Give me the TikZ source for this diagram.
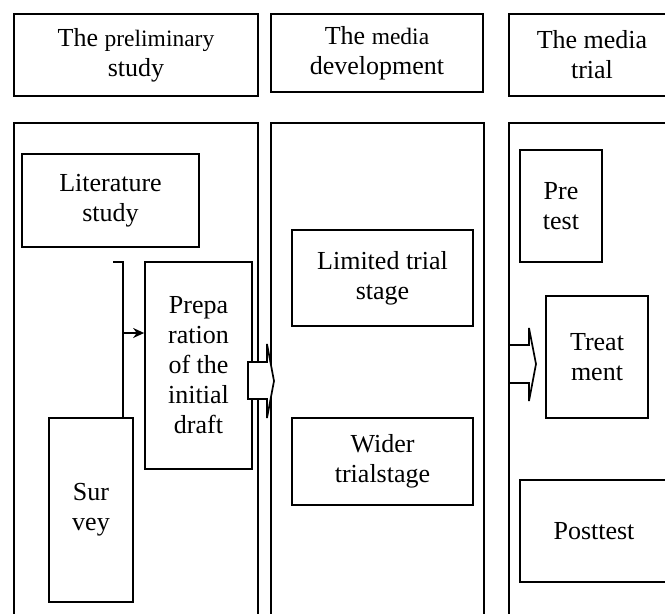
\documentclass[tikz,border=0pt]{standalone}
\usepackage{fontspec}
\setmainfont{Liberation Serif}
\usetikzlibrary{arrows.meta,calc}
\tikzset{
  box/.style={draw, line width=1.7pt, inner sep=0pt, align=center,
    font=\fontsize{26}{30}\selectfont},
  conn/.style={line width=1.7pt},
  blockarrow/.style={draw, fill=white, line width=1.7pt, line join=miter}
}
\newcommand{\smallword}[1]{{\fontsize{23.5}{30}\selectfont #1}}
\begin{document}
\begin{tikzpicture}[x=1pt,y=-1pt]
\useasboundingbox (0,0) rectangle (665,614);
\clip (0,0) rectangle (665,614);
% headers
\node[box, minimum width=244, minimum height=82] (h1) at (136,55) {The \smallword{preliminary}\\study};
\node[box, minimum width=212, minimum height=78] (h2) at (377,53) {The \smallword{media}\\development};
\node[box, minimum width=166, minimum height=82] (h3) at (592,55) {The media\\trial};
% panels
\node[box, minimum width=244, minimum height=517] (p1) at (136,381.5) {};
\node[box, minimum width=213, minimum height=517] (p2) at (377.5,381.5) {};
\node[box, minimum width=166, minimum height=517] (p3) at (592,381.5) {};
% panel 1
\node[box, minimum width=177, minimum height=93] (lit) at (110.5,200.5) {Literature\\study};
\node[box, minimum width=107, minimum height=207] (prep) at (198.5,365.5) {Prepa\\ration\\of the\\initial\\draft};
\node[box, minimum width=84, minimum height=184] (survey) at (91,510) {Sur\\vey};
% panel 2
\node[box, minimum width=181, minimum height=96] (lim) at (382.5,278) {Limited trial\\stage};
\node[box, minimum width=181, minimum height=87] (wider) at (382.5,461.5) {Wider\\trialstage};
% panel 3
\node[box, minimum width=82, minimum height=112] (pre) at (561,206) {Pre\\test};
\node[box, minimum width=102, minimum height=122] (treat) at (597,357) {Treat\\ment};
\node[box, minimum width=148, minimum height=102] (post) at (594,531) {Posttest};
% bracket and arrow to preparation
\coordinate (bk) at (113,262);
\coordinate (bj) at (123,262);
\coordinate (ba) at (123,333);
\draw[conn] (bk) -- (bj) -- (bj |- survey.north);
\draw[conn, -{Stealth[length=11pt,width=10pt]}] (ba) -- (ba -| prep.west);
% block arrows
\draw[blockarrow] (248,362) -- (267,362) -- (267,344) -- (274,381) -- (267,418) -- (267,399) -- (248,399) -- cycle;
\draw[blockarrow] (509,345) -- (529,345) -- (529,328) -- (536,364) -- (529,401) -- (529,383) -- (509,383) -- cycle;
\end{tikzpicture}
\end{document}
